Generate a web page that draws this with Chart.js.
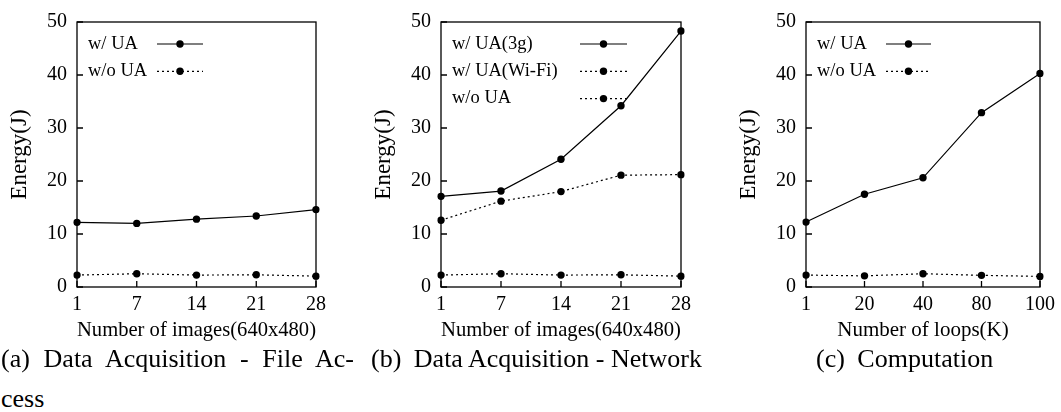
<!DOCTYPE html>
<html>
<head>
<meta charset="utf-8">
<script src="https://cdn.jsdelivr.net/npm/chart.js@4.4.1/dist/chart.umd.min.js"></script>
<style>
  html, body { margin: 0; padding: 0; background: #fff; }
  body { width: 1061px; height: 412px; position: relative; overflow: hidden; font-family: 'Liberation Serif', serif; color: #000; }
  canvas { position: absolute; top: 0; }
  .cap { position: absolute; font-size: 26px; line-height: 30px; white-space: nowrap; }
  .cap .lbl { padding-right: 6px; }
  #capA1 { left: 1px; top: 344px; width: 353px; white-space: normal; text-align: justify; text-align-last: justify; }
  #capA2 { left: 1px; top: 384px; }
  #capB { left: 371px; top: 344px; }
  #capC { left: 816px; top: 344px; }
</style>
</head>
<body>
<canvas id="chart-a" width="345" height="345" style="left:0px"></canvas>
<canvas id="chart-b" width="343" height="345" style="left:364px"></canvas>
<canvas id="chart-c" width="332" height="345" style="left:729px"></canvas>

<div class="cap" id="capA1">(a) Data Acquisition - File Ac-</div>
<div class="cap" id="capA2">cess</div>
<div class="cap" id="capB"><span class="lbl">(b)</span> Data Acquisition - Network</div>
<div class="cap" id="capC"><span class="lbl">(c)</span> Computation</div>

<script>
// x categories
const imageCounts = ['1', '7', '14', '21', '28']
const loopCounts = ['1', '20', '40', '80', '100']

// (a) file access, energy in J
const fileWithUA = [12.2, 12.0, 12.8, 13.4, 14.6]
const fileWithoutUA = [2.25, 2.5, 2.25, 2.3, 2.05]

// (b) network
const net3g = [17.1, 18.1, 24.1, 34.2, 48.3]
const netWifi = [12.6, 16.2, 18.0, 21.1, 21.2]
const netWithoutUA = [2.25, 2.5, 2.25, 2.3, 2.05]

// (c) computation
const compWithUA = [12.25, 17.5, 20.6, 32.9, 40.3]
const compWithoutUA = [2.25, 2.1, 2.5, 2.2, 2.0]

const yTicks = [0, 10, 20, 30, 40, 50]

Chart.defaults.font.family = "'Liberation Serif', serif"
Chart.defaults.color = '#000'

const SOLID = []
const DOTTED = [2, 3]

// gnuplot-style box with inward ticks
const frameTicks = {
  id: 'frameTicks',
  beforeDatasetsDraw(chart) {
    const { ctx, chartArea: a, scales: { x, y } } = chart
    ctx.save()
    ctx.strokeStyle = '#000'
    ctx.lineWidth = 1.3
    ctx.strokeRect(a.left, a.top, a.right - a.left, a.bottom - a.top)
    ctx.beginPath()
    y.ticks.forEach(t => {
      const py = y.getPixelForValue(t.value)
      ctx.moveTo(a.left, py)
      ctx.lineTo(a.left + 6, py)
    })
    x.ticks.forEach((t, i) => {
      const px = x.getPixelForTick(i)
      ctx.moveTo(px, a.bottom)
      ctx.lineTo(px, a.bottom - 6)
    })
    ctx.stroke()
    ctx.restore()
  }
}

// key drawn inside the plot: label text on the left, line sample on the right
const keyBox = {
  id: 'keyBox',
  afterDraw(chart, args, opts) {
    const { ctx, chartArea: a } = chart
    ctx.save()
    ctx.font = "18.5px 'Liberation Serif', serif"
    ctx.fillStyle = '#000'
    ctx.textBaseline = 'middle'
    chart.data.datasets.forEach((ds, i) => {
      const yy = a.top + 22 + i * 27.3
      ctx.fillText(ds.label, a.left + 11, yy)
      ctx.beginPath()
      ctx.setLineDash(ds.borderDash || [])
      ctx.lineWidth = 1.2
      ctx.strokeStyle = '#000'
      ctx.moveTo(a.left + opts.x0, yy)
      ctx.lineTo(a.left + opts.x1, yy)
      ctx.stroke()
      ctx.setLineDash([])
      ctx.beginPath()
      ctx.arc(a.left + (opts.x0 + opts.x1) / 2, yy, 3.7, 0, Math.PI * 2)
      ctx.fill()
    })
    ctx.restore()
  }
}

function series(label, data, dash) {
  return {
    label,
    data,
    borderColor: '#000',
    backgroundColor: '#000',
    borderWidth: 1.2,
    borderDash: dash,
    pointRadius: 3.7,
    pointHoverRadius: 3.7,
    pointBorderWidth: 0,
    tension: 0,
  }
}

function makeChart(id, labels, datasets, xTitle, rightPad, key) {
  return new Chart(document.getElementById(id), {
    type: 'line',
    data: { labels, datasets },
    plugins: [frameTicks, keyBox],
    options: {
      responsive: false,
      animation: false,
      devicePixelRatio: 1,
      layout: { padding: { top: 20, right: rightPad, bottom: 0, left: 0 } },
      plugins: {
        legend: { display: false },
        tooltip: { enabled: false },
        keyBox: key,
      },
      scales: {
        x: {
          offset: false,
          grid: { display: false, drawTicks: false },
          border: { display: false },
          ticks: { font: { size: 20 }, padding: 6, maxRotation: 0 },
          title: { display: true, text: xTitle, font: { size: 21 }, padding: { top: 0, bottom: 2 } },
          afterFit: s => { s.height = 58 },
        },
        y: {
          min: 0,
          max: 50,
          afterBuildTicks: s => { s.ticks = yTicks.map(v => ({ value: v })) },
          grid: { display: false, drawTicks: false },
          border: { display: false },
          ticks: { font: { size: 20 }, padding: 10 },
          title: { display: true, text: 'Energy(J)', font: { size: 23 }, padding: { top: 6, bottom: 0 } },
          afterFit: s => { s.width = 77 },
        },
      },
    },
  })
}

makeChart('chart-a', imageCounts, [
  series('w/ UA', fileWithUA, SOLID),
  series('w/o UA', fileWithoutUA, DOTTED),
], 'Number of images(640x480)', 29, { x0: 80, x1: 126 })

makeChart('chart-b', imageCounts, [
  series('w/ UA(3g)', net3g, SOLID),
  series('w/ UA(Wi-Fi)', netWifi, DOTTED),
  series('w/o UA', netWithoutUA, DOTTED),
], 'Number of images(640x480)', 26, { x0: 139, x1: 186 })

makeChart('chart-c', loopCounts, [
  series('w/ UA', compWithUA, SOLID),
  series('w/o UA', compWithoutUA, DOTTED),
], 'Number of loops(K)', 16, { x0: 80, x1: 125 })
</script>
</body>
</html>
